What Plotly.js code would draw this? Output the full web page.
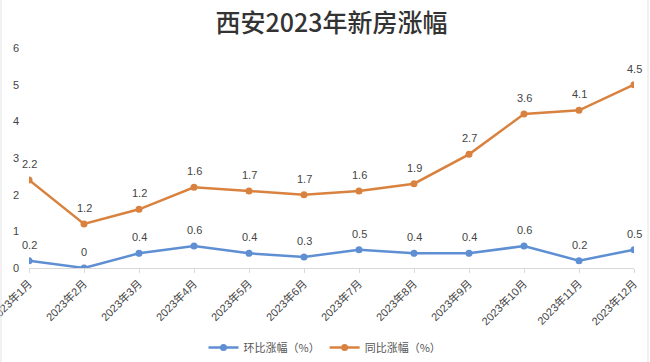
<!DOCTYPE html>
<html>
<head>
<meta charset="utf-8">
<script src="https://cdn.plot.ly/plotly-3.0.1.min.js"></script>
<style>html,body{margin:0;padding:0;background:#fff;}#chart{width:650px;height:362px;}</style>
</head>
<body>
<div id="chart"></div>
<script>
var months = ['2023年1月','2023年2月','2023年3月','2023年4月','2023年5月','2023年6月','2023年7月','2023年8月','2023年9月','2023年10月','2023年11月','2023年12月'];
var momChange = [0.2, 0, 0.4, 0.6, 0.4, 0.3, 0.5, 0.4, 0.4, 0.6, 0.2, 0.5];
var yoyChange = [2.2, 1.2, 1.2, 1.6, 1.7, 1.7, 1.6, 1.9, 2.7, 3.6, 4.1, 4.5];
var seriesNames = ['环比涨幅（%）', '同比涨幅（%）'];
var yTicks = [0, 1, 2, 3, 4, 5, 6];

var blue = '#5f8fd3';
var orange = '#d9823f';
var fontFam = 'Liberation Sans, Arial, Noto Sans CJK SC, sans-serif';

var traces = [
  {x: months, y: momChange, name: seriesNames[0], type: 'scatter', mode: 'lines+markers',
   stackgroup: 'a', fill: 'none', line: {color: blue, width: 2.5}, marker: {color: blue, size: 7}},
  {x: months, y: yoyChange, name: seriesNames[1], type: 'scatter', mode: 'lines+markers',
   stackgroup: 'a', fill: 'none', line: {color: orange, width: 2.5}, marker: {color: orange, size: 7}}
];

var annotations = [];
months.forEach(function(m, i) {
  annotations.push({x: m, y: momChange[i], text: String(momChange[i]), showarrow: false,
    yshift: 16, font: {size: 11, color: '#444', family: fontFam}, xref: 'x', yref: 'y'});
  annotations.push({x: m, y: momChange[i] + yoyChange[i], text: String(yoyChange[i]), showarrow: false,
    yshift: 16, font: {size: 11, color: '#444', family: fontFam}, xref: 'x', yref: 'y'});
});

var layout = {
  width: 650, height: 362,
  margin: {l: 29, r: 16, t: 48, b: 94},
  paper_bgcolor: '#fff', plot_bgcolor: '#fff',
  title: {text: '西安2023年新房涨幅', x: 0.5, xref: 'paper', xanchor: 'center', y: 0.935, yanchor: 'middle',
    font: {size: 25, color: '#333', family: 'Noto Sans CJK SC, sans-serif', weight: 500}},
  xaxis: {type: 'category', range: [0, 11], showgrid: false, zeroline: false,
    showline: true, linecolor: '#d9d9d9', linewidth: 1,
    ticks: 'outside', ticklen: 4, tickcolor: '#d9d9d9', tickangle: -45,
    tickfont: {size: 11, color: '#444', family: fontFam}, fixedrange: true},
  yaxis: {range: [0, 6], tickvals: yTicks, showgrid: false, zeroline: false, showline: false,
    ticks: '', tickfont: {size: 11, color: '#444', family: fontFam}, ticklabelstandoff: 9},
  showlegend: true,
  legend: {orientation: 'h', x: 0.5, xanchor: 'center', xref: 'container', y: 0.04, yref: 'container', yanchor: 'middle',
    font: {size: 11, color: '#555', family: 'Noto Sans CJK SC, sans-serif'}, itemwidth: 30},
  annotations: annotations,
  shapes: [
    {type: 'line', xref: 'paper', yref: 'paper', x0: -28/605, x1: -28/605, y0: -94/220, y1: 1 + 48/220, line: {color: '#e3e3e3', width: 1}},
    {type: 'line', xref: 'paper', yref: 'paper', x0: 1 + 14/605, x1: 1 + 14/605, y0: -94/220, y1: 1 + 48/220, line: {color: '#e3e3e3', width: 1}}
  ]
};

Plotly.newPlot('chart', traces, layout, {displayModeBar: false, staticPlot: true});
</script>
</body>
</html>
